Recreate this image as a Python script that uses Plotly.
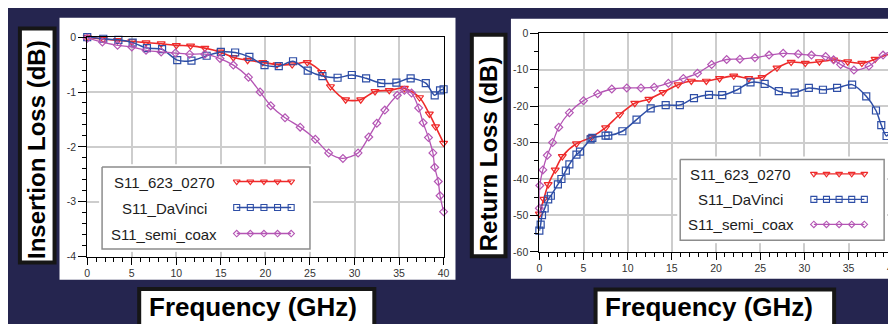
import numpy as np
import plotly.graph_objects as go

# ---------------- data ----------------
SERIES = ["S11_623_0270", "S11_DaVinci", "S11_semi_coax"]

# Insertion loss (left chart)
IL_FREQ_623 = [0, 1.8, 3.4, 5.0, 6.6, 8.3, 10.0, 11.6, 13.2, 14.9, 16.4, 18.0, 19.7, 21.3,
               23.0, 24.7, 26.3, 27.3, 29.0, 30.7, 32.3, 33.9, 35.6, 37.3, 38.4, 39.1, 40]
IL_623 = [0, -0.035, -0.06, -0.08, -0.1, -0.12, -0.15, -0.16, -0.2, -0.27, -0.37, -0.42, -0.46,
          -0.5, -0.5, -0.46, -0.64, -0.9, -1.14, -1.14, -0.99, -0.97, -0.93, -1.1, -1.4, -1.63, -1.93]

IL_FREQ_DAV = [0, 1.8, 3.5, 5.1, 6.7, 8.4, 10.1, 11.7, 13.4, 15.0, 16.6, 18.2, 19.9, 21.5, 23.1,
               24.75, 26.4, 28.1, 29.7, 31.3, 33.0, 34.7, 36.3, 38.0, 39.0, 39.6, 40]
IL_DAV = [0, -0.03, -0.05, -0.1, -0.2, -0.22, -0.42, -0.43, -0.34, -0.27, -0.28, -0.36, -0.51,
          -0.53, -0.44, -0.61, -0.71, -0.74, -0.69, -0.75, -0.84, -0.83, -0.75, -0.84, -1.06, -0.97, -0.95]

IL_FREQ_SEMI = [0, 1.7, 3.4, 5.0, 6.6, 8.3, 9.9, 11.5, 13.2, 14.9, 16.4, 18.1, 19.4, 20.6, 22.2,
                23.9, 25.6, 27.1, 28.7, 30.4, 31.6, 32.5, 33.4, 34.8, 35.6, 36.4, 37.2, 37.7,
                38.3, 38.8, 39.0, 39.4, 39.6, 40]
IL_SEMI = [-0.02, -0.09, -0.15, -0.18, -0.24, -0.27, -0.29, -0.31, -0.31, -0.39, -0.51, -0.73,
           -1.0, -1.25, -1.47, -1.64, -1.86, -2.11, -2.21, -2.11, -1.82, -1.57, -1.33, -1.06,
           -0.97, -1.02, -1.29, -1.56, -1.83, -2.11, -2.37, -2.63, -2.89, -3.18]

# Return loss (right chart)
RL_FREQ_623 = [0, 0.5, 1.0, 1.8, 2.6, 4.2, 5.9, 7.5, 9.1, 10.8, 12.4, 14.0, 15.7, 17.2, 18.9,
               20.4, 22.0, 23.7, 25.2, 26.9, 28.5, 30.1, 31.7, 33.3, 34.9, 36.5, 38.0, 40]
RL_623 = [-49.6, -45.5, -41.5, -37.5, -33.8, -30.3, -28.5, -25.9, -22.3, -19.2, -18.1, -16.2,
          -14.1, -13.1, -13.1, -12.4, -11.7, -12.4, -12.1, -9.5, -7.9, -8.2, -7.8, -7.3, -7.8,
          -8.2, -7.1, -5.3]

RL_FREQ_DAV = [0, 0.15, 0.3, 0.6, 1.0, 1.3, 2.1, 2.5, 3.0, 3.4, 4.2, 4.6, 5.8, 6.0, 7.5, 7.8,
               9.4, 11.0, 12.6, 14.3, 15.9, 17.5, 19.2, 20.7, 22.4, 23.9, 25.5, 27.1, 28.9,
               30.5, 32.1, 33.7, 35.4, 37.0, 38.1, 38.7, 39.3, 40]
RL_DAV = [-54.2, -52.5, -49.9, -48.1, -45.6, -44.6, -41.5, -40.0, -37.7, -36.0, -33.3, -32.5,
          -29.1, -28.7, -28.1, -28.1, -26.9, -23.7, -20.6, -19.7, -19.7, -17.8, -16.9, -17.0,
          -15.5, -13.5, -13.9, -15.9, -16.3, -15.0, -15.5, -15.0, -14.1, -17.3, -21.2, -25.2,
          -28.2, -24.7]

RL_FREQ_SEMI = [0, 0.05, 0.4, 0.9, 1.5, 2.2, 3.4, 5.0, 6.6, 8.2, 9.9, 11.5, 13.0, 14.6, 16.3,
                17.9, 19.5, 21.2, 22.7, 24.4, 26.0, 27.6, 29.3, 30.8, 32.4, 33.3, 34.1, 35.6,
                37.3, 38.9, 40]
RL_SEMI = [-48, -41.8, -37.5, -33.5, -30.0, -25.8, -21.8, -18.5, -16.6, -15.3, -15.0, -15.0,
           -14.8, -13.7, -12.4, -11.0, -8.6, -7.2, -7.1, -6.7, -6.0, -5.5, -5.7, -6.0, -6.4,
           -7.3, -8.6, -10.1, -9.0, -6.0, -4.7]

X_TICKS = [0, 5, 10, 15, 20, 25, 30, 35, 40]
X_TICK_TEXT = ["0", "5", "10", "15", "20", "25", "30", "35", "40"]
IL_TICKS = [0, -1, -2, -3, -4]
IL_TICK_TEXT = ["0", "-1", "-2", "-3", "-4"]
RL_TICKS = [0, -10, -20, -30, -40, -50, -60]
RL_TICK_TEXT = ["0", "-10", "-20", "-30", "-40", "-50", "-60"]

X_TITLE = "Frequency (GHz)"
IL_TITLE = "Insertion Loss (dB)"
RL_TITLE = "Return Loss (dB)"

# ---------------- styling / layout ----------------
W, H = 896, 324
NAVY = "#25254f"
FONT = "Liberation Sans, Arial, sans-serif"


def fx(p):
    return p / W


def fy(p):
    return 1 - p / H


STY = {
    "S11_623_0270": dict(color="#ee2a2a", symbol="triangle-down-open", size=7, width=1.6),
    "S11_DaVinci": dict(color="#2e4ea6", symbol="square-open", size=7, width=1.5),
    "S11_semi_coax": dict(color="#b455b4", symbol="diamond-open", size=6, width=1.3),
}

fig = go.Figure()

left_data = [(IL_FREQ_623, IL_623), (IL_FREQ_DAV, IL_DAV), (IL_FREQ_SEMI, IL_SEMI)]
right_data = [(RL_FREQ_623, RL_623), (RL_FREQ_DAV, RL_DAV), (RL_FREQ_SEMI, RL_SEMI)]

for (xs, ys), name in zip(left_data, SERIES):
    s = STY[name]
    fig.add_trace(go.Scatter(
        x=xs, y=ys, mode="lines+markers", name=name, showlegend=False,
        line=dict(color=s["color"], width=s["width"], shape="spline", smoothing=0.8),
        marker=dict(symbol=s["symbol"], size=s["size"], color=s["color"], line=dict(width=1.2, color=s["color"])),
        cliponaxis=False, xaxis="x", yaxis="y"))

for (xs, ys), name in zip(right_data, SERIES):
    s = STY[name]
    fig.add_trace(go.Scatter(
        x=xs, y=ys, mode="lines+markers", name=name, showlegend=False,
        line=dict(color=s["color"], width=s["width"], shape="spline", smoothing=0.8),
        marker=dict(symbol=s["symbol"], size=s["size"], color=s["color"], line=dict(width=1.2, color=s["color"])),
        cliponaxis=False, xaxis="x2", yaxis="y2"))

# custom legends (text on the left, sample on the right), drawn in pixel-space helper axes
legends = [
    dict(xa="x3", ya="y3", box=(92, 159, 302, 244), text_x=155, rows=[174, 201, 228], sample=(228, 283)),
    dict(xa="x4", ya="y4", box=(676, 151, 882, 235), text_x=737, rows=[166, 192.5, 218.5], sample=(811, 862)),
]
annotations = []
for lg in legends:
    x0, y0, x1, y1 = lg["box"]
    fig.add_trace(go.Scatter(
        x=[x0, x1, x1, x0, x0], y=[y0, y0, y1, y1, y0], mode="lines", fill="toself",
        fillcolor="white", line=dict(color="#8c8c8c", width=1.5), showlegend=False,
        hoverinfo="skip", xaxis=lg["xa"], yaxis=lg["ya"]))
    for name, ry in zip(SERIES, lg["rows"]):
        s = STY[name]
        sx = np.linspace(lg["sample"][0], lg["sample"][1], 5)
        fig.add_trace(go.Scatter(
            x=sx, y=[ry] * 5, mode="lines+markers", showlegend=False, hoverinfo="skip",
            line=dict(color=s["color"], width=1.4),
            marker=dict(symbol=s["symbol"], size=s["size"] - 1, color=s["color"], line=dict(width=1.1, color=s["color"])),
            cliponaxis=False, xaxis=lg["xa"], yaxis=lg["ya"]))
        annotations.append(dict(
            x=lg["text_x"], y=ry + 0.5, xref=lg["xa"], yref=lg["ya"], text=name, showarrow=False,
            xanchor="center", yanchor="middle", font=dict(family=FONT, size=15, color="#1c1c1c")))

# titles
annotations += [
    dict(x=fx(26.5), y=fy(141), xref="paper", yref="paper", text=f"<b>{IL_TITLE}</b>", textangle=-90,
         showarrow=False, xanchor="center", yanchor="middle", font=dict(family=FONT, size=24, color="black")),
    dict(x=fx(482.5), y=fy(145), xref="paper", yref="paper", text=f"<b>{RL_TITLE}</b>", textangle=-90,
         showarrow=False, xanchor="center", yanchor="middle", font=dict(family=FONT, size=24, color="black")),
    dict(x=fx(244), y=fy(304), xref="paper", yref="paper", text=f"<b>{X_TITLE}</b>",
         showarrow=False, xanchor="center", yanchor="middle", font=dict(family=FONT, size=26, color="black")),
    dict(x=fx(705), y=fy(304), xref="paper", yref="paper", text=f"<b>{X_TITLE}</b>",
         showarrow=False, xanchor="center", yanchor="middle", font=dict(family=FONT, size=26, color="black")),
]


def rect(x0, y0, x1, y1, fill, line_color=None, lw=0, layer="below"):
    return dict(type="rect", xref="paper", yref="paper", x0=fx(x0), x1=fx(x1), y0=fy(y1), y1=fy(y0),
                fillcolor=fill, line=dict(color=line_color or fill, width=lw), layer=layer)


shapes = [
    rect(49, 4, 449, 276, "white"),
    rect(505, 5, 897, 275, "white"),
    rect(9, 15, 44, 258, "white", "#161616", 4),
    rect(465.5, 21.5, 499.5, 251.5, "white", "#161616", 4),
    rect(129.5, 285.5, 367, 330, "white", "#161616", 4),
    rect(590.5, 286, 831.5, 330, "white", "#161616", 4),
]

tickfont = dict(family=FONT, size=10.5, color="#333333")


def xax(domain, anchor):
    return dict(domain=domain, anchor=anchor, range=[0, 40], tickmode="array", tickvals=X_TICKS,
                ticktext=X_TICK_TEXT, ticks="outside", ticklen=7, tickwidth=1, tickcolor="black",
                showline=True, linecolor="black", linewidth=1, mirror=True, showgrid=True,
                gridcolor="#cdcdcd", gridwidth=1.5, zeroline=False, tickfont=tickfont,
                minor=dict(dtick=1, tick0=0, ticks="outside", ticklen=4, tickcolor="black", showgrid=False))


def yax(domain, anchor, rng, vals, text, minor):
    return dict(domain=domain, anchor=anchor, range=rng, tickmode="array", tickvals=vals,
                ticktext=text, ticks="outside", ticklen=8, tickwidth=1, tickcolor="black",
                showline=True, linecolor="black", linewidth=1, mirror=True, showgrid=True,
                gridcolor="#cdcdcd", gridwidth=1.5, zeroline=False, tickfont=tickfont,
                minor=dict(dtick=minor, tick0=0, ticks="outside", ticklen=4, tickcolor="black", showgrid=False))


def hidden(domain, anchor, rng):
    return dict(domain=domain, anchor=anchor, range=rng, visible=False, showgrid=False, zeroline=False,
                fixedrange=True)


fig.update_layout(
    width=W, height=H, margin=dict(l=0, r=0, t=0, b=0),
    paper_bgcolor=NAVY, plot_bgcolor="white", showlegend=False,
    xaxis=xax([fx(77), fx(437)], "y"),
    yaxis=yax([fy(252), fy(24)], "x", [-4, 0], IL_TICKS, IL_TICK_TEXT, 0.2),
    xaxis2=xax([fx(533.7), fx(890.7)], "y2"),
    yaxis2=yax([fy(247), fy(20)], "x2", [-60, 0], RL_TICKS, RL_TICK_TEXT, 5),
    xaxis3=hidden([fx(89), fx(305)], "y3", [89, 305]),
    yaxis3=hidden([fy(247), fy(156)], "x3", [247, 156]),
    xaxis4=hidden([fx(673), fx(885)], "y4", [673, 885]),
    yaxis4=hidden([fy(238), fy(148)], "x4", [238, 148]),
    shapes=shapes, annotations=annotations,
)

fig.write_html("out.html")
